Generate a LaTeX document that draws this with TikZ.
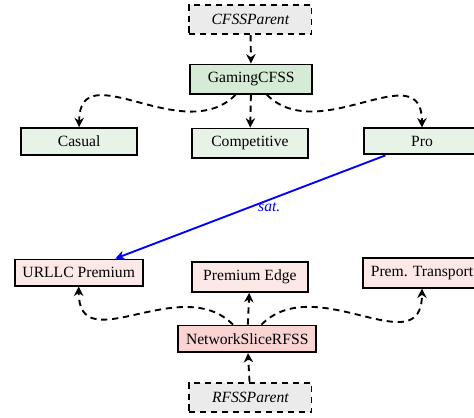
\documentclass[tikz,border=0pt]{standalone}
\usepackage{fontspec}
\setmainfont{Liberation Serif}
\usepackage{tikz}
\usetikzlibrary{positioning, arrows.meta, calc}

\begin{document}
\begin{tikzpicture}[font=\normalsize, >={Stealth[length=6pt, width=6pt]}]
        % 색상 정의
        \definecolor{cfssfill}{HTML}{E8F3E8}    % CFSS 자식 노드
        \definecolor{cfssmain}{HTML}{D5EBD5}    % GamingCFSS
        \definecolor{rfssfill}{HTML}{FDE8E8}    % RFSS 자식 노드
        \definecolor{rfssmain}{HTML}{FAD3D3}    % NetworkSliceRFSS
        \definecolor{parentfill}{HTML}{EBEBEB}  % 부모 노드

        % 공통 스타일 설정
        \tikzset{
            box/.style={draw, line width=1.2pt, inner xsep=5pt, inner ysep=5pt, minimum width=2.6cm},
            cfss/.style={box, fill=cfssfill},
            rfss/.style={box, fill=rfssfill},
            parentbox/.style={box, dash pattern=on 4pt off 3pt, fill=parentfill, font=\itshape, inner ysep=6pt, minimum width=2.75cm},
            inherit/.style={->, dash pattern=on 4pt off 3pt, line width=1.2pt},
            satisfies/.style={->, blue, line width=1.2pt}
        }

        % 그림 영역 (474 x 417 비율)
        \useasboundingbox (0,0) rectangle (10.66,-9.38);

        % --- CFSS 쪽 ---
        \node[parentbox] (cfssparent) at (5.63,-0.44) {CFSSParent};
        \node[cfss, fill=cfssmain, minimum width=2.75cm] (gaming) at (5.65,-1.78) {GamingCFSS};
        \node[cfss] (casual) at (1.78,-3.18) {Casual};
        \node[cfss] (competitive) at (5.62,-3.22) {Competitive};
        \node[cfss] (pro) at (9.49,-3.18) {Pro};

        % --- RFSS 쪽 ---
        \node[rfss] (urllc) at (1.77,-6.13) {URLLC Premium};
        \node[rfss] (edge) at (5.62,-6.23) {Premium Edge};
        \node[rfss] (transport) at (9.49,-6.14) {Prem. Transport};
        \node[rfss, fill=rfssmain] (slice) at (5.56,-7.62) {NetworkSliceRFSS};
        \node[parentbox] (rfssparent) at (5.63,-8.94) {RFSSParent};

        % 상속 관계 (점선)
        \draw[inherit] (cfssparent) -- (gaming);
        \draw[inherit] (gaming) to[out=-135, in=90, looseness=1.2] (casual);
        \draw[inherit] (gaming) -- (competitive);
        \draw[inherit] (gaming) to[out=-45, in=90, looseness=1.2] (pro);

        \draw[inherit] (rfssparent) -- (slice);
        \draw[inherit] (slice) to[out=135, in=-90, looseness=1.2] (urllc);
        \draw[inherit] (slice) -- (edge);
        \draw[inherit] (slice) to[out=45, in=-90, looseness=1.2] (transport);

        % 만족 관계
        \draw[satisfies] (pro) -- node[pos=0.43, below, inner sep=1pt, font=\itshape] {sat.} (urllc);
    \end{tikzpicture}
\end{document}
